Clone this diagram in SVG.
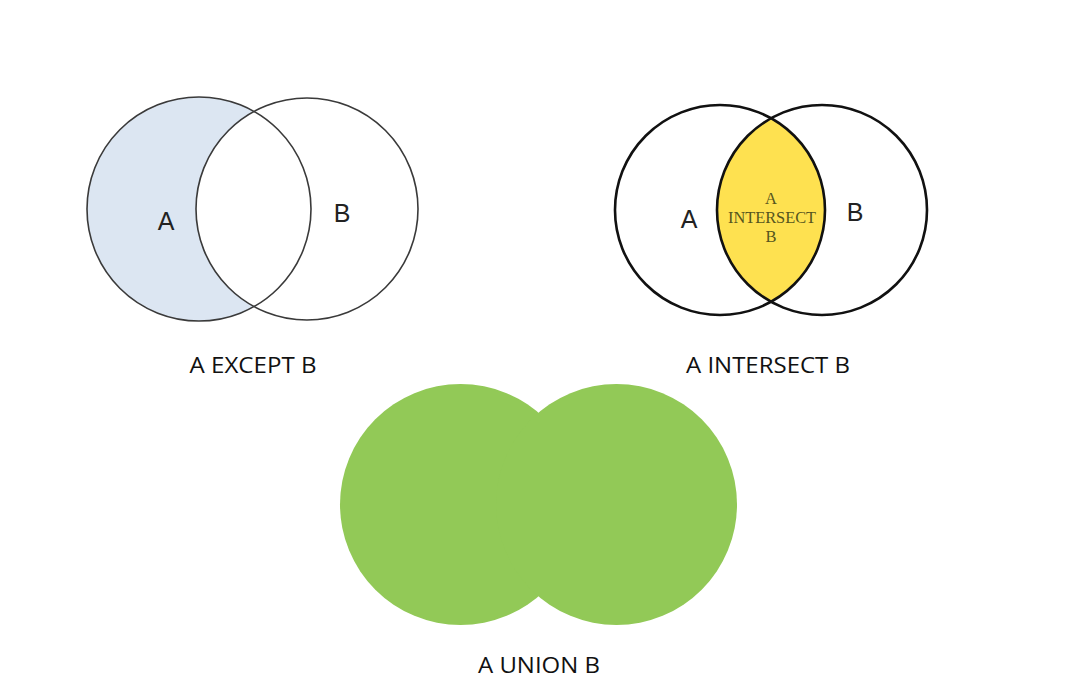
<svg xmlns="http://www.w3.org/2000/svg" width="1072" height="688" viewBox="0 0 1072 688">
<style>
.thin{fill:none;stroke:#3a3a3a;stroke-width:1.6}
.thick{fill:none;stroke:#111;stroke-width:2.6}
.lbl{font-family:"Liberation Sans",Arial,sans-serif;font-size:25px;fill:#222;text-anchor:middle}
.cap{font-family:"Open Sans","Liberation Sans",sans-serif;font-size:21px;fill:#111;text-anchor:middle}
.ser{font-family:"Liberation Serif","Times New Roman",serif;font-size:16.5px;fill:#55551e;text-anchor:middle}
</style>
<rect width="1072" height="688" fill="#fff"/>
<g id="except">
<path d="M254,111.4 A112,112 0 1 0 254,306.6 A111,111 0 0 1 254,111.4 Z" fill="#dce6f2"/>
<circle class="thin" cx="199" cy="209" r="112"/>
<circle class="thin" cx="307" cy="209" r="111"/>
<text class="lbl" x="166" y="230">A</text>
<text class="lbl" x="342" y="222">B</text>
<text class="cap" x="253" y="373" textLength="127" lengthAdjust="spacingAndGlyphs">A EXCEPT B</text>
</g>
<g id="intersect">
<path d="M771,118.2 A105,105 0 0 1 771,301.8 A105,105 0 0 1 771,118.2 Z" fill="#fee150"/>
<circle class="thick" cx="720" cy="210" r="105"/>
<circle class="thick" cx="822" cy="210" r="105"/>
<text class="lbl" x="689" y="228">A</text>
<text class="lbl" x="855" y="221">B</text>
<text class="ser" x="771" y="204">A</text>
<text class="ser" x="772" y="223" textLength="88" lengthAdjust="spacingAndGlyphs">INTERSECT</text>
<text class="ser" x="771" y="242">B</text>
<text class="cap" x="768" y="373" textLength="164" lengthAdjust="spacingAndGlyphs">A INTERSECT B</text>
</g>
<g id="union">
<circle cx="460.5" cy="504.5" r="120.5" fill="#92c957"/>
<circle cx="616.5" cy="504.5" r="120.5" fill="#92c957"/>
<text class="cap" x="539" y="673" textLength="122" lengthAdjust="spacingAndGlyphs">A UNION B</text>
</g>
</svg>
